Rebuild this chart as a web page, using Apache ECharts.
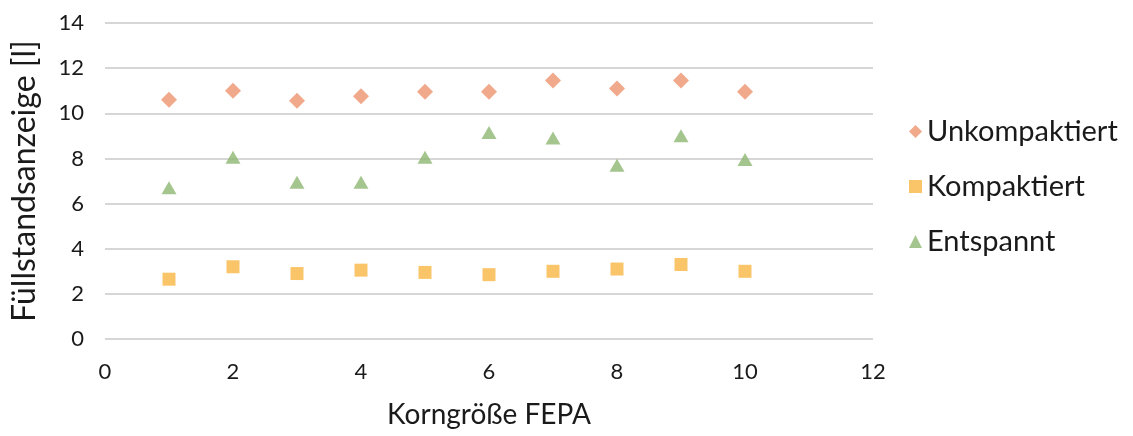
<!DOCTYPE html>
<html>
<head>
<meta charset="utf-8">
<script src="https://cdn.jsdelivr.net/npm/echarts@6/dist/echarts.min.js"></script>
<style>
  html, body { margin: 0; padding: 0; background: #fff; }
  #chart { width: 1133px; height: 436px; }
</style>
</head>
<body>
<div id="chart"></div>
<script>
// Korngröße FEPA (x) – Füllstandsanzeige [l] (y)
var korngroesse = [1, 2, 3, 4, 5, 6, 7, 8, 9, 10];
var unkompaktiert = [10.6, 11.0, 10.55, 10.75, 10.95, 10.95, 11.45, 11.1, 11.45, 10.95];
var kompaktiert = [2.65, 3.2, 2.9, 3.05, 2.95, 2.85, 3.0, 3.1, 3.3, 3.0];
var entspannt = [6.7, 8.05, 6.95, 6.95, 8.05, 9.15, 8.9, 7.7, 9.0, 7.95];
var seriesNames = ['Unkompaktiert', 'Kompaktiert', 'Entspannt'];

function pairs(ys) {
  return korngroesse.map(function (x, i) { return [x, ys[i]]; });
}

var font = 'Lato, "Open Sans", sans-serif';
var ink = '#1a1a1a';
var myChart = echarts.init(document.getElementById('chart'));

myChart.setOption({
  backgroundColor: '#fff',
  animation: false,
  textStyle: { fontFamily: font },
  grid: { left: 105, right: 260, top: 23, bottom: 97 },
  legend: {
    orient: 'vertical',
    left: 904,
    top: 112,
    itemGap: 26,
    itemWidth: 13,
    itemHeight: 13,
    textStyle: { fontSize: 29, color: ink, fontFamily: font },
    data: seriesNames
  },
  xAxis: {
    type: 'value',
    min: 0, max: 12, interval: 2,
    name: 'Korngröße FEPA',
    nameLocation: 'middle',
    nameGap: 62,
    nameTextStyle: { fontSize: 28, color: ink },
    axisLine: { show: false },
    axisTick: { show: false },
    splitLine: { show: false },
    axisLabel: { fontSize: 22, color: ink, margin: 22 }
  },
  yAxis: {
    type: 'value',
    min: 0, max: 14, interval: 2,
    name: 'Füllstandsanzeige [l]',
    nameLocation: 'middle',
    nameGap: 64,
    nameTextStyle: { fontSize: 32, color: ink },
    axisLine: { show: false },
    axisTick: { show: false },
    splitLine: { show: true, lineStyle: { color: '#c9c9c9', width: 1.5 } },
    axisLabel: { fontSize: 22, color: ink, margin: 21 }
  },
  series: [
    {
      name: seriesNames[0], type: 'scatter', symbol: 'diamond', symbolSize: [16, 16],
      itemStyle: { color: '#ED946E' }, data: pairs(unkompaktiert)
    },
    {
      name: seriesNames[1], type: 'scatter', symbol: 'rect', symbolSize: 13,
      itemStyle: { color: '#F9B643' }, data: pairs(kompaktiert)
    },
    {
      name: seriesNames[2], type: 'scatter', symbol: 'triangle', symbolSize: [15, 13],
      itemStyle: { color: '#8FB772' }, data: pairs(entspannt)
    }
  ]
});
</script>
</body>
</html>
